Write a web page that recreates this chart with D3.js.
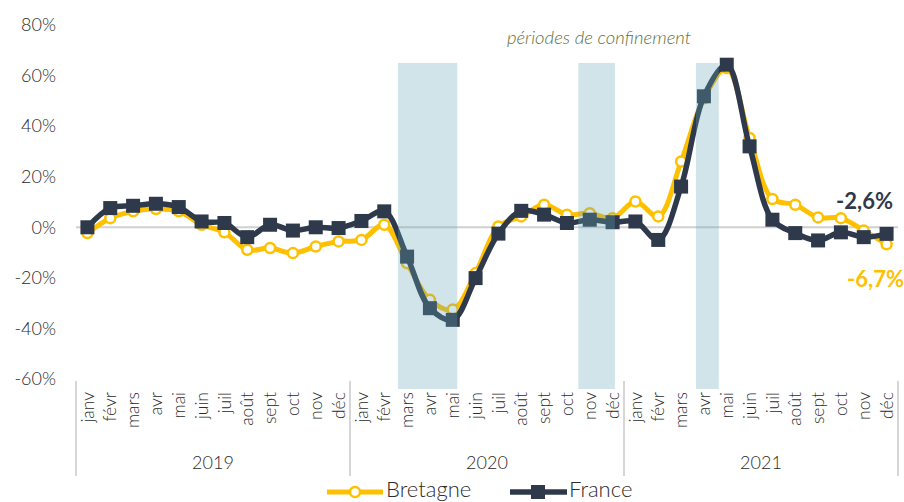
<!DOCTYPE html>
<html>
<head>
<meta charset="utf-8">
<script src="https://cdn.jsdelivr.net/npm/d3@7"></script>
<style>
  body { margin: 0; background: #fff; }
  svg { font-family: Lato, "Open Sans", sans-serif; }
</style>
</head>
<body>
<svg id="chart" width="904" height="502"></svg>
<script>
/** donnees **/
var months = ["janv", "févr", "mars", "avr", "mai", "juin", "juil", "août", "sept", "oct", "nov", "déc"];
var years = ["2019", "2020", "2021"];
var bretagne = [-2.3, 3.6, 6.3, 7.2, 6.3, 1, -2, -8.9, -8.2, -10.2, -7.6, -5.6,
                -5, 1, -14.2, -28.7, -32.5, -18.1, 0.3, 4.3, 8.9, 5, 5.6, 3.6,
                10.2, 4.3, 26, 51, 63, 35.3, 11.2, 8.9, 3.9, 3.6, -1.3, -6.7];
var france = [0, 7.6, 8.5, 9.3, 8, 2.3, 1.7, -3.9, 1, -1.3, 0, -0.3,
              2.5, 6.3, -11.6, -32, -36.6, -20.1, -2.5, 6.5, 5, 1.7, 3, 2,
              2.3, -5, 16.1, 51.8, 64.3, 32, 3, -2.3, -5.2, -2, -3.9, -2.6];
var yTicks = [-60, -40, -20, 0, 20, 40, 60, 80];
// periodes de confinement, en mois depuis janv 2019
var confinements = [[14.1, 16.7], [22.0, 23.6], [27.15, 28.15]];
var lastLabels = ["-2,6%", "-6,7%"];

var svg = d3.select("#chart");
var navy = "#2E3A4B", yellow = "#FFC000", grey = "#2b2b2b";

var idx = d3.range(36);
var x = d3.scaleBand().domain(idx).range([76, 898]);
var xm = d3.scaleLinear().domain([0, 36]).range([76, 898]); // position continue
var y = d3.scaleLinear().domain([-60, 80]).range([379, 25]);
var cx = function(i) { return x(i) + x.bandwidth() / 2; };

// axe y (labels seulement)
svg.append("g")
  .selectAll("text").data(yTicks).enter().append("text")
  .attr("x", 56).attr("y", function(d) { return y(d); })
  .attr("dy", "0.35em").attr("text-anchor", "end")
  .attr("font-size", 18).attr("font-weight", 300).attr("fill", grey)
  .text(function(d) { return d + "%"; });

// ligne zero
svg.append("line")
  .attr("x1", 76).attr("x2", 898).attr("y1", y(0)).attr("y2", y(0))
  .attr("stroke", "#d0d0d0").attr("stroke-width", 2);

// mois
svg.append("g")
  .selectAll("text").data(idx).enter().append("text")
  .attr("transform", function(i) { return "translate(" + cx(i) + ",392) rotate(-90)"; })
  .attr("dy", "0.35em").attr("text-anchor", "end")
  .attr("font-size", 17.5).attr("font-weight", 300).attr("fill", grey)
  .text(function(i) { return months[i % 12]; });

// separateurs d'annees
svg.append("g")
  .selectAll("line").data(d3.range(years.length + 1)).enter().append("line")
  .attr("x1", function(k) { return xm(k * 12); }).attr("x2", function(k) { return xm(k * 12); })
  .attr("y1", 381).attr("y2", 476)
  .attr("stroke", "#d6d6d6").attr("stroke-width", 2);

svg.append("g")
  .selectAll("text").data(years).enter().append("text")
  .attr("x", function(d, k) { return xm(k * 12 + 6); }).attr("y", 463)
  .attr("dy", "0.35em").attr("text-anchor", "middle")
  .attr("font-size", 18).attr("font-weight", 300).attr("fill", grey)
  .text(function(d) { return d; });

var line = d3.line()
  .x(function(d, i) { return cx(i); })
  .y(function(d) { return y(d); })
  .curve(d3.curveCatmullRom);

// Bretagne
svg.append("path").datum(bretagne)
  .attr("d", line).attr("fill", "none")
  .attr("stroke", yellow).attr("stroke-width", 5);
svg.append("g")
  .selectAll("circle").data(bretagne).enter().append("circle")
  .attr("cx", function(d, i) { return cx(i); }).attr("cy", function(d) { return y(d); })
  .attr("r", 5).attr("fill", "#fff").attr("stroke", yellow).attr("stroke-width", 2.5);

// France
svg.append("path").datum(france)
  .attr("d", line).attr("fill", "none")
  .attr("stroke", navy).attr("stroke-width", 5.5);
svg.append("g")
  .selectAll("rect").data(france).enter().append("rect")
  .attr("x", function(d, i) { return cx(i) - 7; }).attr("y", function(d) { return y(d) - 7; })
  .attr("width", 14).attr("height", 14).attr("fill", navy);

// confinements, par dessus
svg.append("g")
  .selectAll("rect").data(confinements).enter().append("rect")
  .attr("x", function(d) { return xm(d[0]); })
  .attr("width", function(d) { return xm(d[1]) - xm(d[0]); })
  .attr("y", y(65)).attr("height", 389 - y(65))
  .attr("fill", "#67A6B7").attr("opacity", 0.3);

svg.append("text")
  .attr("x", 599).attr("y", 44).attr("text-anchor", "middle")
  .attr("font-size", 18.5).attr("font-weight", 300).attr("font-style", "italic").attr("fill", "#5E7342")
  .text("périodes de confinement");

// valeurs finales
svg.append("text")
  .attr("x", 893).attr("y", y(france[35]) - 33).attr("dy", "0.35em")
  .attr("text-anchor", "end").attr("font-size", 22).attr("font-weight", "bold")
  .attr("fill", navy).text(lastLabels[0]);
svg.append("text")
  .attr("x", 904).attr("y", y(bretagne[35]) + 35).attr("dy", "0.35em")
  .attr("text-anchor", "end").attr("font-size", 22).attr("font-weight", "bold")
  .attr("fill", yellow).text(lastLabels[1]);

// legende
var leg = svg.append("g");
leg.append("line").attr("x1", 327).attr("x2", 383).attr("y1", 492).attr("y2", 492)
  .attr("stroke", yellow).attr("stroke-width", 5);
leg.append("circle").attr("cx", 355).attr("cy", 492).attr("r", 5)
  .attr("fill", "#fff").attr("stroke", yellow).attr("stroke-width", 2.5);
leg.append("text").attr("x", 386).attr("y", 497).attr("font-size", 22).attr("font-weight", 300).attr("fill", grey).text("Bretagne");
leg.append("line").attr("x1", 510).attr("x2", 567).attr("y1", 492).attr("y2", 492)
  .attr("stroke", navy).attr("stroke-width", 5.5);
leg.append("rect").attr("x", 531).attr("y", 485).attr("width", 14).attr("height", 14).attr("fill", navy);
leg.append("text").attr("x", 569).attr("y", 497).attr("font-size", 22).attr("font-weight", 300).attr("fill", grey).text("France");
</script>
</body>
</html>
